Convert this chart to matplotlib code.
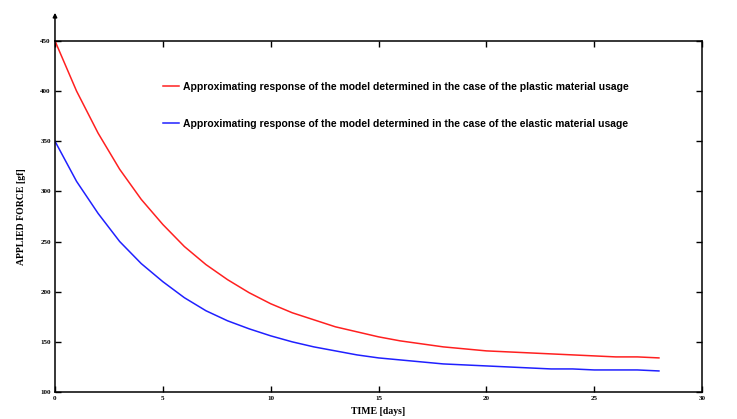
import matplotlib
matplotlib.use("Agg")
import matplotlib.pyplot as plt

# -------------------------
# Data
# -------------------------
days = list(range(0, 29))
force_plastic = [450, 400, 358, 322, 292, 267, 245, 227, 212, 199,
                 188, 179, 172, 165, 160, 155, 151, 148, 145, 143,
                 141, 140, 139, 138, 137, 136, 135, 135, 134]
force_elastic = [350, 310, 278, 250, 228, 210, 194, 181, 171, 163,
                 156, 150, 145, 141, 137, 134, 132, 130, 128, 127,
                 126, 125, 124, 123, 123, 122, 122, 122, 121]

label_plastic = "Approximating response of the model determined in the case of the plastic material usage"
label_elastic = "Approximating response of the model determined in the case of the elastic material usage"

x_ticks = [0, 5, 10, 15, 20, 25, 30]
y_ticks = [100, 150, 200, 250, 300, 350, 400, 450]

# -------------------------
# Plot
# -------------------------
plt.rcParams["font.family"] = ["Liberation Serif", "DejaVu Serif"]

fig = plt.figure(figsize=(7.37, 4.19), dpi=100)
ax = fig.add_axes([0.0746, 0.0644, 0.878, 0.838])

ax.plot(days, force_plastic, color="#ff2020", lw=1.1, label=label_plastic)
ax.plot(days, force_elastic, color="#2020ff", lw=1.1, label=label_elastic)

ax.set_xlim(0, 30)
ax.set_ylim(100, 450)
ax.set_xticks(x_ticks)
ax.set_yticks(y_ticks)
ax.tick_params(direction="in", top=True, right=True, length=4, width=1,
               labelsize=5, pad=3)
for t in ax.get_xticklabels() + ax.get_yticklabels():
    t.set_fontweight("bold")
for s in ax.spines.values():
    s.set_linewidth(1.1)

ax.set_xlabel("TIME [days]", fontsize=7, fontweight="bold", labelpad=4)
ax.set_ylabel("APPLIED FORCE [gf]", fontsize=7, fontweight="bold", labelpad=10)

# arrow on the top of the y axis
ax.annotate("", xy=(0, 1.08), xytext=(0, 1.0), xycoords="axes fraction",
            textcoords="axes fraction",
            arrowprops=dict(arrowstyle="-|>", lw=1.1, color="black",
                            mutation_scale=6, shrinkA=0, shrinkB=0))

leg = ax.legend(loc="upper left", bbox_to_anchor=(0.161, 0.895), frameon=False,
                prop={"family": "Liberation Sans", "weight": "bold", "size": 7.5},
                handlelength=1.5, handletextpad=0.4,
                labelspacing=2.6, borderaxespad=0)

fig.savefig("out.png", dpi=100)
